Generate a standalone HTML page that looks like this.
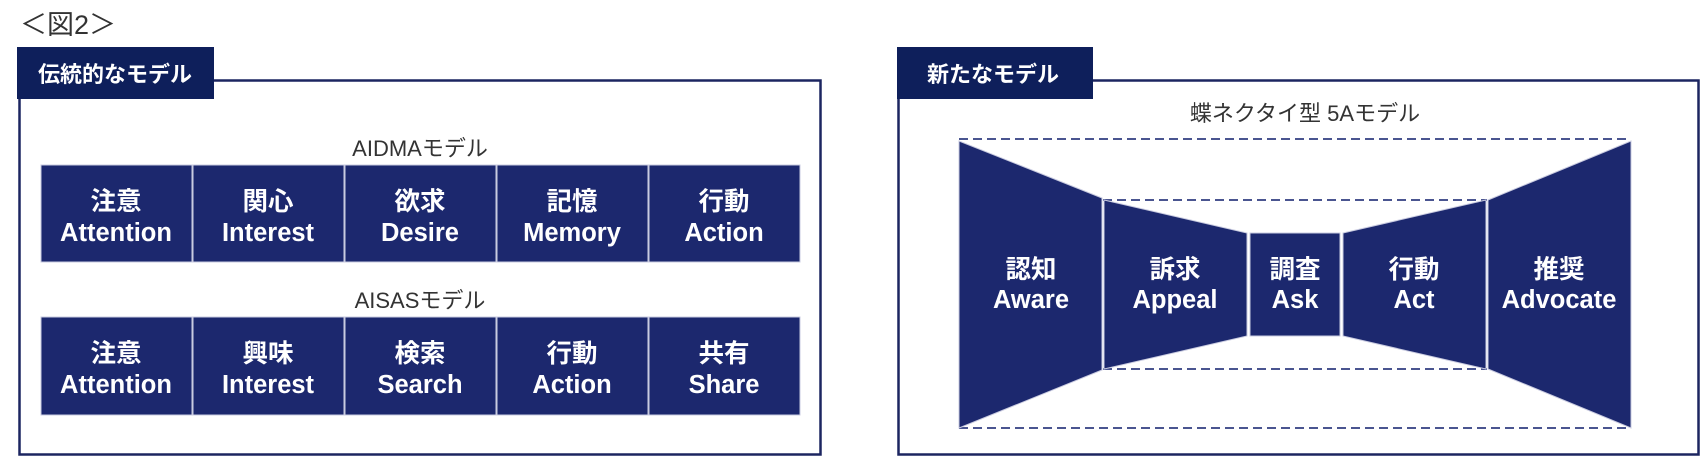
<!DOCTYPE html>
<html><head><meta charset="utf-8"><style>
html,body{margin:0;padding:0;background:#fff;}
svg{display:block;}
text{font-family:"Liberation Sans","Noto Sans CJK JP",sans-serif;}
.b{fill:#fff;font-weight:bold;font-size:25.5px;text-anchor:middle;}
.l{fill:#333;font-size:22px;text-anchor:middle;}
</style></head><body>
<svg width="1701" height="457" viewBox="0 0 1701 457" xmlns="http://www.w3.org/2000/svg">
<text x="20" y="34" style="font-size:27px;fill:#333">＜図2＞</text>
<!-- left frame -->
<rect x="19.5" y="80.5" width="801" height="374" fill="none" stroke="#1c2560" stroke-width="2.5"/>
<rect x="17" y="47" width="197" height="52" fill="#0e1f5b"/>
<text x="115" y="82" style="fill:#fff;font-weight:bold;font-size:22px;text-anchor:middle">伝統的なモデル</text>
<!-- right frame -->
<rect x="898.5" y="80.5" width="800" height="374" fill="none" stroke="#1c2560" stroke-width="2.5"/>
<rect x="897" y="47" width="196" height="52" fill="#0e1f5b"/>
<text x="993" y="82" style="fill:#fff;font-weight:bold;font-size:22px;text-anchor:middle">新たなモデル</text>

<text class="l" x="420" y="156">AIDMAモデル</text>
<text class="l" x="420" y="308">AISASモデル</text>
<g fill="#1c286e" stroke="#c9cbe0" stroke-width="1">
<rect x="41" y="165" width="151" height="97"/><rect x="193" y="165" width="151" height="97"/><rect x="345" y="165" width="151" height="97"/><rect x="497" y="165" width="151" height="97"/><rect x="649" y="165" width="151" height="97"/>
<rect x="41" y="317" width="151" height="98"/><rect x="193" y="317" width="151" height="98"/><rect x="345" y="317" width="151" height="98"/><rect x="497" y="317" width="151" height="98"/><rect x="649" y="317" width="151" height="98"/>
</g>
<text class="b" x="116" y="210">注意</text><text class="b" x="116" y="241">Attention</text>
<text class="b" x="268" y="210">関心</text><text class="b" x="268" y="241">Interest</text>
<text class="b" x="420" y="210">欲求</text><text class="b" x="420" y="241">Desire</text>
<text class="b" x="572" y="210">記憶</text><text class="b" x="572" y="241">Memory</text>
<text class="b" x="724" y="210">行動</text><text class="b" x="724" y="241">Action</text>
<text class="b" x="116" y="362">注意</text><text class="b" x="116" y="393">Attention</text>
<text class="b" x="268" y="362">興味</text><text class="b" x="268" y="393">Interest</text>
<text class="b" x="420" y="362">検索</text><text class="b" x="420" y="393">Search</text>
<text class="b" x="572" y="362">行動</text><text class="b" x="572" y="393">Action</text>
<text class="b" x="724" y="362">共有</text><text class="b" x="724" y="393">Share</text>

<text class="l" x="1305" y="121">蝶ネクタイ型  5Aモデル</text>
<g stroke="#4a5590" stroke-width="2" stroke-dasharray="9,5" fill="none">
<line x1="959" y1="139" x2="1631" y2="139"/>
<line x1="1103" y1="200" x2="1487" y2="200"/>
<line x1="1103" y1="369" x2="1487" y2="369"/>
<line x1="959" y1="428" x2="1631" y2="428"/>
</g>
<g fill="#1c286e" stroke="#c9cbe0" stroke-width="1">
<polygon points="959,141 1102,198 1102,370 959,428"/>
<polygon points="1104,200 1247,233 1247,336 1104,369"/>
<rect x="1250" y="233" width="90" height="103"/>
<polygon points="1343,233 1486,200 1486,369 1343,336"/>
<polygon points="1488,200 1631,141 1631,428 1488,369"/>
</g>
<text class="b" x="1031" y="278">認知</text><text class="b" x="1031" y="308">Aware</text>
<text class="b" x="1175" y="278">訴求</text><text class="b" x="1175" y="308">Appeal</text>
<text class="b" x="1295" y="278">調査</text><text class="b" x="1295" y="308">Ask</text>
<text class="b" x="1414" y="278">行動</text><text class="b" x="1414" y="308">Act</text>
<text class="b" x="1559" y="278">推奨</text><text class="b" x="1559" y="308">Advocate</text>
</svg>
</body></html>
